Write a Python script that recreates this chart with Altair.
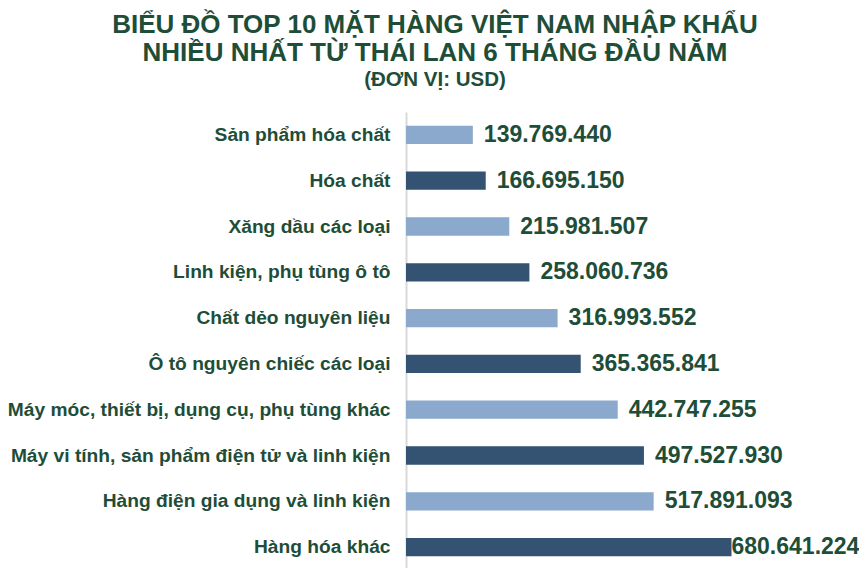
import altair as alt
import pandas as pd

categories = [
    "Sản phẩm hóa chất",
    "Hóa chất",
    "Xăng dầu các loại",
    "Linh kiện, phụ tùng ô tô",
    "Chất dẻo nguyên liệu",
    "Ô tô nguyên chiếc các loại",
    "Máy móc, thiết bị, dụng cụ, phụ tùng khác",
    "Máy vi tính, sản phẩm điện tử và linh kiện",
    "Hàng điện gia dụng và linh kiện",
    "Hàng hóa khác",
]
values = [
    139769440,
    166695150,
    215981507,
    258060736,
    316993552,
    365365841,
    442747255,
    497527930,
    517891093,
    680641224,
]

df = pd.DataFrame({"item": categories, "value": values})
df["label"] = [f"{v:,}".replace(",", ".") for v in values]

GREEN = "#1E4D38"
FONT = "Liberation Sans"

base = alt.Chart(df).transform_window(
    idx="row_number()"
).transform_calculate(
    tone="datum.idx % 2 == 1 ? 'light' : 'dark'"
)

y_enc = alt.Y(
    "item:N",
    sort=categories,
    title=None,
    scale=alt.Scale(paddingInner=0.6, paddingOuter=0.3),
    axis=alt.Axis(
        labelFont=FONT,
        labelFontSize=19.2,
        labelFontWeight="bold",
        labelColor=GREEN,
        labelPadding=16,
        labelLimit=600,
        ticks=False,
        domainColor="#D9D9D9",
        domainWidth=2,
        grid=False,
    ),
)
x_enc = alt.X("value:Q", axis=None, scale=alt.Scale(domain=[0, 941000000], nice=False))

bars = base.mark_bar().encode(
    y=y_enc,
    x=x_enc,
    color=alt.Color(
        "tone:N",
        scale=alt.Scale(domain=["light", "dark"], range=["#8AA9CC", "#345271"]),
        legend=None,
    ),
)

text_main = base.transform_filter("datum.idx < 10").mark_text(
    align="left", baseline="middle", dx=11, font=FONT, fontSize=23, fontWeight="bold", color=GREEN
).encode(y=alt.Y("item:N", sort=categories), x=x_enc, text="label:N")

text_last = base.transform_filter("datum.idx == 10").mark_text(
    align="left", baseline="middle", dx=0, font=FONT, fontSize=23, fontWeight="bold", color=GREEN
).encode(y=alt.Y("item:N", sort=categories), x=x_enc, text="label:N")

chart = alt.layer(bars, text_main, text_last).properties(
    width=450,
    height=458,
    autosize=alt.AutoSizeParams(type="none"),
    padding={"left": 398, "top": 104, "right": 3, "bottom": 0},
    title=alt.TitleParams(
        text=["BIỂU ĐỒ TOP 10 MẶT HÀNG VIỆT NAM NHẬP KHẨU", "NHIỀU NHẤT TỪ THÁI LAN 6 THÁNG ĐẦU NĂM"],
        subtitle="(ĐƠN VỊ: USD)",
        font=FONT,
        fontSize=26,
        fontWeight="bold",
        color=GREEN,
        lineHeight=28,
        subtitleFont=FONT,
        subtitleFontSize=20.5,
        subtitleFontWeight="bold",
        subtitleColor=GREEN,
        subtitlePadding=4,
        anchor="middle",
        dx=-196,
        offset=22,
    ),
).configure_view(stroke=None)

chart.save("out.html", embed_options={"renderer": "svg", "actions": False})
